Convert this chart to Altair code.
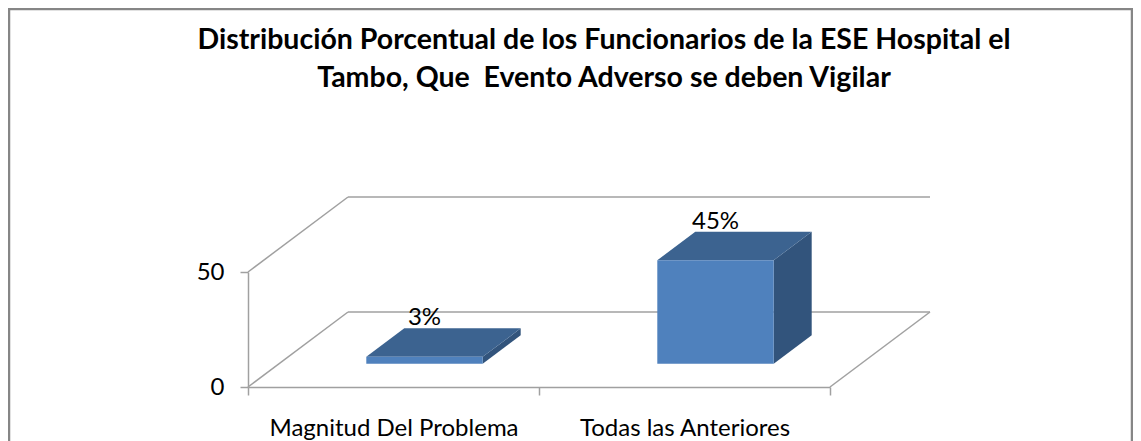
import json
import altair as alt
import pandas as pd

# ---------------- data ----------------
categories = ["Magnitud Del Problema", "Todas las Anteriores"]
values = [3, 45]
value_labels = ["3%", "45%"]
y_ticks = [0, 50]
title_lines = [
    "Distribución Porcentual de los Funcionarios de la ESE Hospital el",
    "Tambo, Que \u00a0Evento Adverso se deben Vigilar",
]

# ---------------- style / projection ----------------
FONT = "Lato"
W, H = 582, 115                 # front plane (plot area) size in px
X_MAX = len(categories)         # x domain 0..n categories
Y_MAX = max(y_ticks)
DX = 100 / W * X_MAX            # depth offset, x data units
DY = 75 / H * Y_MAX             # depth offset, y data units
HW = 0.2                        # bar half width (category units)
F0, F1 = 0.31, 0.69             # bar depth start / end (fraction of depth)
FRONT = "#4F81BD"
TOP = "#3C6390"
SIDE = "#32547C"
GRID = "#A0A0A0"

front_rows, top_rows, side_rows, lab_rows = [], [], [], []
for i, (cat, v, lab) in enumerate(zip(categories, values, value_labels)):
    c = i + 0.5
    front_rows.append({"bar": cat, "x": c - HW + F0 * DX, "x2": c + HW + F0 * DX,
                       "y": F0 * DY, "y2": v + F0 * DY})
    top_rows.append({"bar": cat, "y": v + F0 * DY,
                     "x": c - HW + F0 * DX, "x2": c + HW + F0 * DX})
    top_rows.append({"bar": cat, "y": v + F1 * DY,
                     "x": c - HW + F1 * DX, "x2": c + HW + F1 * DX})
    side_rows.append({"bar": cat, "x": c + HW + F0 * DX, "y": F0 * DY, "y2": v + F0 * DY})
    side_rows.append({"bar": cat, "x": c + HW + F1 * DX, "y": F1 * DY, "y2": v + F1 * DY})
    lab_rows.append({"bar": cat, "x": c + F0 * DX, "y": v + F1 * DY, "label": lab})

seg_rows = []
for t in y_ticks:
    seg_rows.append({"x": DX, "y": t + DY, "x2": X_MAX + DX, "y2": t + DY})   # back wall grid
    seg_rows.append({"x": 0, "y": t, "x2": DX, "y2": t + DY})                 # left wall edge
seg_rows.append({"x": X_MAX, "y": 0, "x2": X_MAX + DX, "y2": DY})             # floor right edge

xs = alt.Scale(domain=[0, X_MAX], nice=False, zero=False)
ys = alt.Scale(domain=[0, Y_MAX], nice=False, zero=False)

label_expr = json.dumps(categories) + "[datum.value] || ''"

x_axis = alt.Axis(values=list(range(X_MAX + 1)), labelExpr=label_expr, labelOffset=W / X_MAX / 2,
                  labelFlush=False, labelOverlap=False, labelBound=False, labelLimit=0,
                  title=None, grid=False,
                  tickSize=8, tickColor=GRID, domainColor=GRID, domainWidth=1.5, tickWidth=1.5,
                  labelFont=FONT, labelFontSize=24, labelColor="black", labelPadding=21)
y_axis = alt.Axis(values=y_ticks, title=None, grid=False, tickSize=8, tickColor=GRID,
                  domainColor=GRID, domainWidth=1.5, tickWidth=1.5, labelFont=FONT,
                  labelFontSize=24, labelColor="black", labelPadding=16)

segs = alt.Chart(pd.DataFrame(seg_rows)).mark_rule(color=GRID, strokeWidth=1.5).encode(
    x=alt.X("x:Q", scale=xs, axis=x_axis), y=alt.Y("y:Q", scale=ys, axis=y_axis),
    x2="x2:Q", y2="y2:Q")

side = alt.Chart(pd.DataFrame(side_rows)).mark_area(orient="vertical", color=SIDE).encode(
    x=alt.X("x:Q", scale=xs), y=alt.Y("y:Q", scale=ys), y2="y2:Q", detail="bar:N")

top = alt.Chart(pd.DataFrame(top_rows)).mark_area(orient="horizontal", color=TOP).encode(
    y=alt.Y("y:Q", scale=ys), x=alt.X("x:Q", scale=xs), x2="x2:Q", detail="bar:N")

front = alt.Chart(pd.DataFrame(front_rows)).mark_rect(color=FRONT).encode(
    x=alt.X("x:Q", scale=xs), x2="x2:Q", y=alt.Y("y:Q", scale=ys), y2="y2:Q")

labels = alt.Chart(pd.DataFrame(lab_rows)).mark_text(
    font=FONT, fontSize=24, color="black", baseline="bottom", dy=2).encode(
    x=alt.X("x:Q", scale=xs), y=alt.Y("y:Q", scale=ys), text="label:N")

frame = alt.Chart(pd.DataFrame({"k": [0]})).mark_rect(
    filled=False, stroke="#868686", strokeWidth=2.5).encode(
    x=alt.value(-239), x2=alt.value(884), y=alt.value(-263), y2=alt.value(300))

chart = alt.layer(frame, segs, side, top, front, labels).properties(
    width=W, height=H,
    autosize=alt.AutoSizeParams(type="none"),
    padding={"left": 240, "top": 264, "right": 303, "bottom": 54},
    title=alt.TitleParams(text=title_lines, font=FONT, fontSize=28.5, fontWeight="bold",
                          color="black", anchor="middle", frame="group", lineHeight=38,
                          offset=0, dx=65, dy=85),
).configure_view(stroke=None)

chart.save("out.html", embed_options={"renderer": "svg", "actions": False})
